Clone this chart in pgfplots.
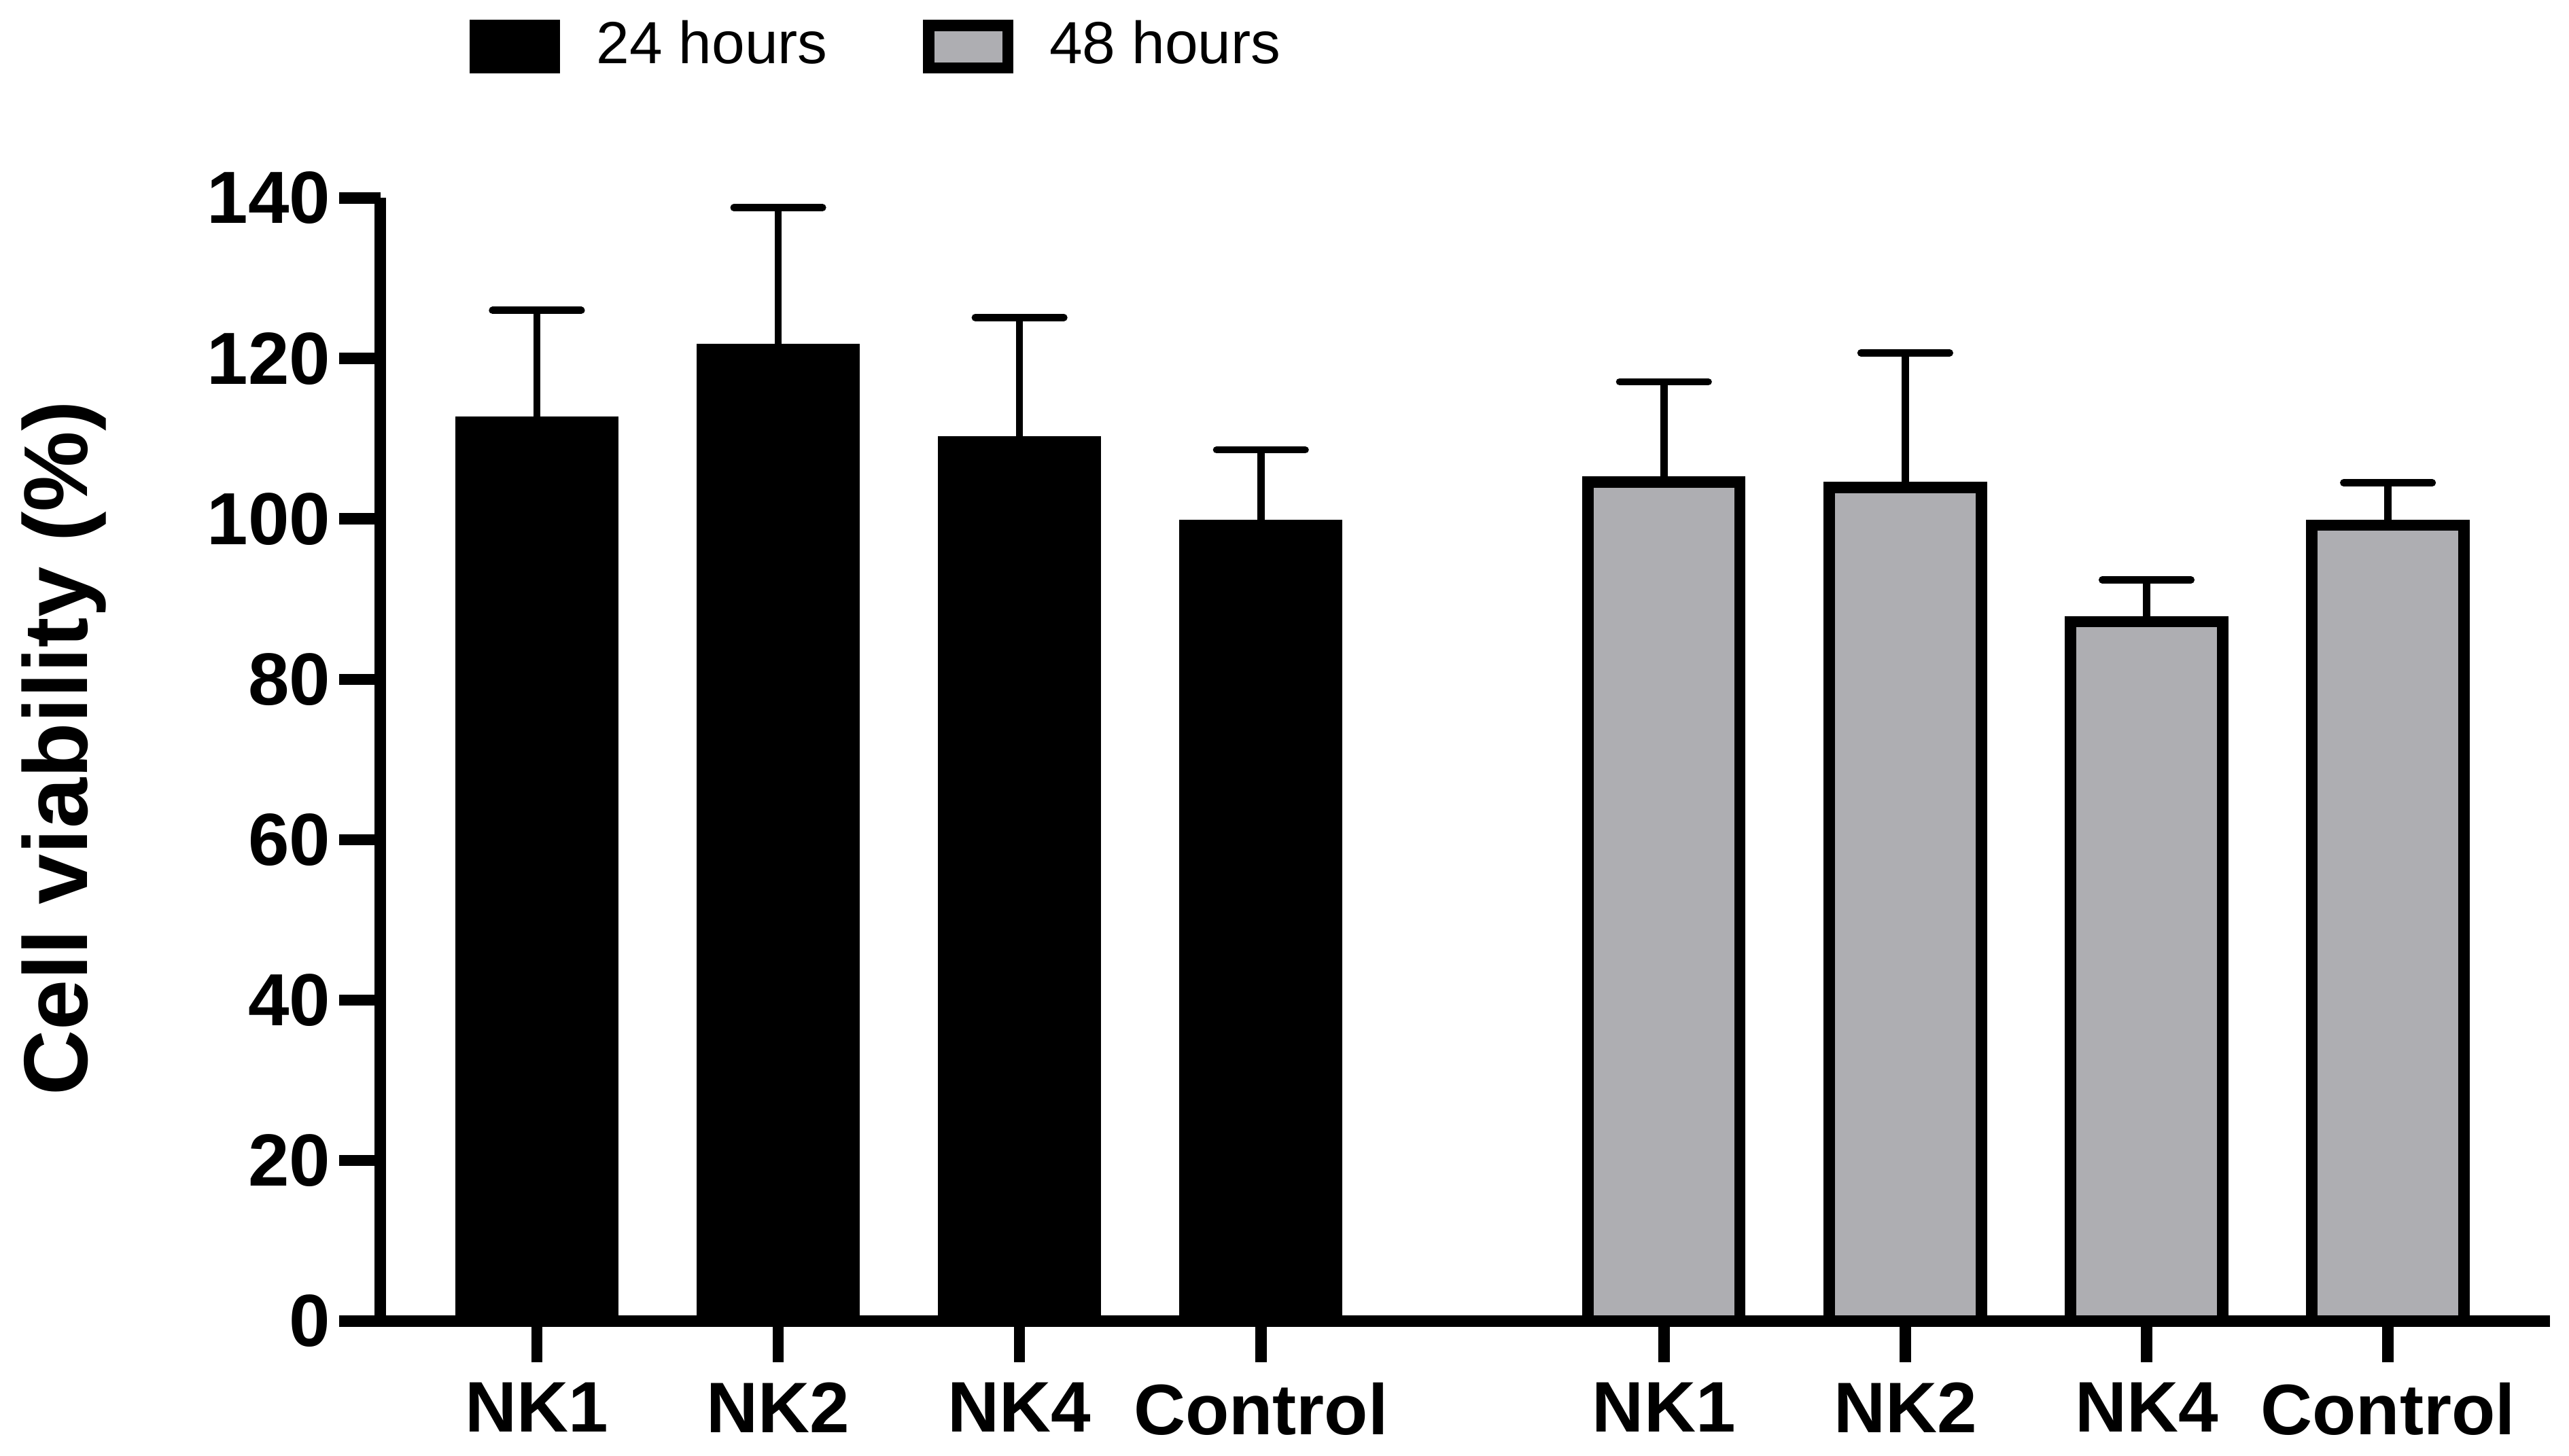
\documentclass[border=0pt]{standalone}
\usepackage{pgfplots}
\pgfplotsset{compat=1.18}
\usepackage{fontspec}
\setmainfont{Liberation Sans}
\definecolor{barGray}{RGB}{174,174,178}
\begin{document}
\begin{tikzpicture}
\useasboundingbox (-2.315,-0.821) rectangle (13.325,8.045);
\begin{axis}[
  at={(0,0)}, anchor=south west,
  scale only axis, width=13.21cm, height=6.839cm,
  xmin=-0.649, xmax=8.342, ymin=0, ymax=140,
  axis x line=bottom, axis y line=left,
  axis line style={line width=1.94pt, -},
  tick align=outside, major tick length=0.25cm,
  tick style={line width=1.94pt, black},
  xtick={0,1,2,3,4.67,5.67,6.67,7.67},
  xticklabels={NK1,NK2,NK4,Control,NK1,NK2,NK4,Control},
  ytick={0,20,40,60,80,100,120,140},
  yticklabel style={font=\fontsize{12.8}{15}\selectfont\bfseries, xshift=0.07cm},
  xticklabel style={font=\fontsize{12.4}{15}\selectfont\bfseries},
  /pgf/number format/assume math mode=true,
  ylabel={Cell viability (\%)},
  ylabel style={font=\fontsize{15.7}{18}\selectfont\bfseries, at={(axis description cs:-0.1351,0.51)}, anchor=base},
  legend columns=2,
  legend style={draw=none, fill=none, inner sep=0pt, outer sep=0pt,
    at={(axis description cs:0.04126,1.1348)}, anchor=west,
    font=\fontsize{10.3}{12}\selectfont,
    nodes={inner sep=0pt},
    /tikz/every odd column/.append style={column sep=0.22cm},
    /tikz/every even column/.append style={column sep=0.58cm}},
  legend image code/.code={\draw[#1, line width=1.94pt] (0cm,-0.129cm) rectangle (0.482cm,0.129cm);},
  clip=false,
]
\addplot[ybar, bar width=0.926cm, bar shift=0pt, fill=black, draw=black, line width=1.94pt,
  error bars/.cd, y dir=plus, y explicit, error mark=|,
  error bar style={line width=1.25pt, black},
  error mark options={line width=1.25pt, mark size=0.27cm, black, line cap=round}]
coordinates {(0,112.1) +- (0,13.9) (1,121.1) +- (0,17.7) (2,109.6) +- (0,15.5) (3,99.2) +- (0,9.4)};
\addlegendentry{24 hours}
\addplot[ybar, bar width=0.926cm, bar shift=0pt, fill=barGray, draw=black, line width=1.94pt,
  error bars/.cd, y dir=plus, y explicit, error mark=|,
  error bar style={line width=1.25pt, black},
  error mark options={line width=1.25pt, mark size=0.27cm, black, line cap=round}]
coordinates {(4.67,104.6) +- (0,12.5) (5.67,103.9) +- (0,16.8) (6.67,87.2) +- (0,5.2) (7.67,99.2) +- (0,5.3)};
\addlegendentry{48 hours}
\end{axis}
\end{tikzpicture}
\end{document}
